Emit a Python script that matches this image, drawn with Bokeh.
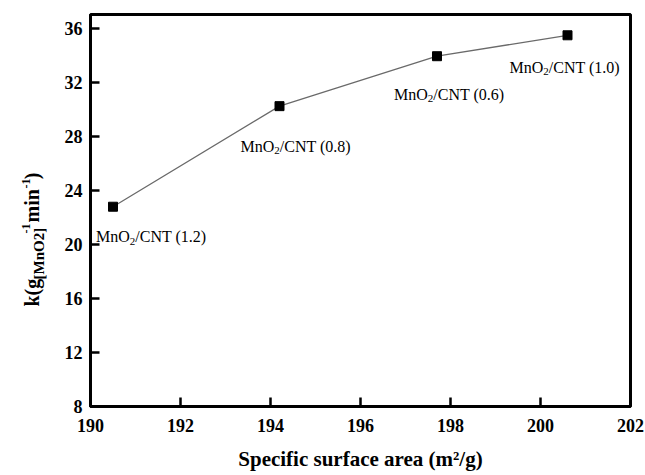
import math
from bokeh.plotting import figure
from bokeh.models import Label, FixedTicker, Range1d
from bokeh.embed import file_html
from bokeh.resources import INLINE

# ---- data ----
surface_area = [190.5, 194.2, 197.7, 200.6]
k_values = [22.8, 30.25, 33.95, 35.5]
sample_labels = ["(1.2)", "(0.8)", "(0.6)", "(1.0)"]
x_ticks = [190, 192, 194, 196, 198, 200, 202]
y_ticks = [8, 12, 16, 20, 24, 28, 32, 36]

X_RANGE = (190, 202)
Y_RANGE = (8, 37.04)

# ---- layout (pixels) ----
W, H = 645, 475
FL, FR, FT, FB = 90, 630, 14, 406
FONT = "Liberation Serif"


def px_x(px):
    return X_RANGE[0] + (px - FL) / (FR - FL) * (X_RANGE[1] - X_RANGE[0])


def px_y(py):
    return Y_RANGE[1] - (py - FT) / (FB - FT) * (Y_RANGE[1] - Y_RANGE[0])


p = figure(width=W, height=H, output_backend="svg", toolbar_location=None,
           x_range=Range1d(*X_RANGE), y_range=Range1d(*Y_RANGE),
           min_border_left=FL, min_border_right=W - FR,
           min_border_top=FT, min_border_bottom=H - FB)
p.background_fill_color = "white"
p.border_fill_color = "white"
p.grid.visible = False
p.outline_line_color = "black"
p.outline_line_width = 3
p.outline_line_alpha = 1

for ax in (p.xaxis[0], p.yaxis[0]):
    ax.axis_line_color = "black"
    ax.axis_line_width = 3
    ax.major_tick_in = 9
    ax.major_tick_out = 0
    ax.major_tick_line_width = 2.5
    ax.major_tick_line_color = "black"
    ax.minor_tick_line_color = None
    ax.major_label_text_font = FONT
    ax.major_label_text_font_style = "bold"
    ax.major_label_text_font_size = "18px"
    ax.major_label_text_color = "black"

p.xaxis.ticker = FixedTicker(ticks=x_ticks)
p.yaxis.ticker = FixedTicker(ticks=y_ticks)
p.xaxis.major_label_standoff = 12
p.yaxis.major_label_standoff = 8

# x title as axis label
p.xaxis.axis_label = "Specific surface area (m\u00b2/g)"
p.xaxis.axis_label_text_font = FONT
p.xaxis.axis_label_text_font_style = "bold"
p.xaxis.axis_label_text_font_size = "21px"
p.xaxis.axis_label_text_color = "black"
p.xaxis.axis_label_standoff = 12

p.line(surface_area, k_values, line_color="#6a6a6a", line_width=1.3)
p.scatter(surface_area, k_values, marker="square", size=9,
          fill_color="black", line_color="black")

# ---- point labels: MnO2/CNT (x) with subscript 2 ----
label_dx = [-17, -39, -43, -58]
label_dy = [30, 40, 38, 32]
W_MNO = (0.889 + 0.5 + 0.722) * 16
W_SUB = 0.5 * 11
for xv, yv, lab, dx, dy in zip(surface_area, k_values, sample_labels, label_dx, label_dy):
    p.add_layout(Label(x=xv, y=yv, x_offset=dx, y_offset=-dy, text="MnO",
                       text_font=FONT, text_font_size="16px", text_color="black",
                       text_align="left", text_baseline="alphabetic"))
    p.add_layout(Label(x=xv, y=yv, x_offset=dx + W_MNO, y_offset=-(dy + 4.5), text="2",
                       text_font=FONT, text_font_size="11px", text_color="black",
                       text_align="left", text_baseline="alphabetic"))
    p.add_layout(Label(x=xv, y=yv, x_offset=dx + W_MNO + W_SUB, y_offset=-dy,
                       text="/CNT " + lab,
                       text_font=FONT, text_font_size="16px", text_color="black",
                       text_align="left", text_baseline="alphabetic"))

# ---- y title (rotated pieces, placed in side panels so they are not clipped) ----
# (text, font size, baseline x px, start y px, panel)
y_title_parts = [
    ("k(g", "20px", 31, 306, "left"),
    ("[MnO2]", "15px", 38, 279, "left"),
    ("min\u2002)", "20px", 31, 222, "left"),
    ("-1", "12px", 25.5, 233, "above"),
    ("-1", "12px", 25.5, 188, "right"),
]
for txt, fs, bx, sy, side in y_title_parts:
    p.add_layout(Label(x=px_x(bx), y=px_y(sy), text=txt, angle=math.pi / 2,
                       text_font=FONT, text_font_style="bold", text_font_size=fs,
                       text_color="black", text_align="left", text_baseline="alphabetic"),
                 side)

open("out.html", "w").write(file_html(p, INLINE))
